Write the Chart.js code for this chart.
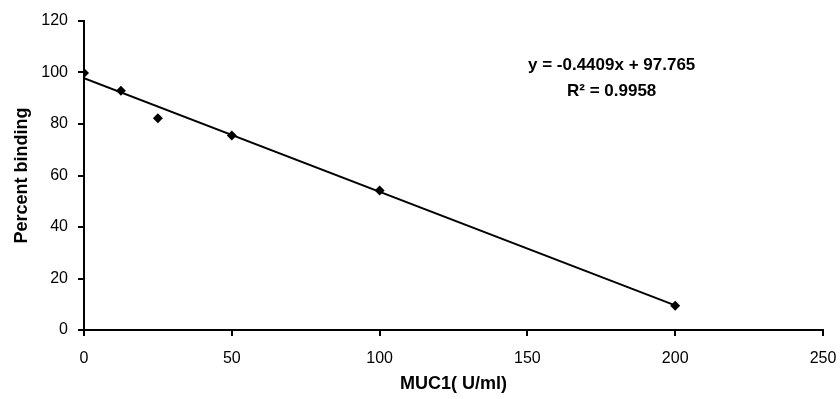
<!DOCTYPE html>
<html>
<head>
<meta charset="utf-8">
<script src="https://cdn.jsdelivr.net/npm/chart.js@4"></script>
<style>
  body { margin: 0; background: #fff; }
  #wrap { width: 840px; height: 399px; }
</style>
</head>
<body>
<div id="wrap"><canvas id="bindingChart"></canvas></div>
<script>
const concentration = [0, 12.5, 25, 50, 100, 200];
const percentBinding = [99.8, 92.9, 82.2, 75.5, 54.2, 9.4];
// trendline end points (y = -0.4409x + 97.765)
const trendX = [0, 200];
const trendY = [97.765, 9.585];
const xTicks = [0, 50, 100, 150, 200, 250];
const yTicks = [0, 20, 40, 60, 80, 100, 120];
const equationLines = ['y = -0.4409x + 97.765', 'R² = 0.9958'];

const fontFamily = '"Liberation Sans", Arial, sans-serif';

const equationPlugin = {
  id: 'equationText',
  afterDraw(chart) {
    const ctx = chart.ctx;
    const x = chart.scales.x.getPixelForValue(178.5);
    ctx.save();
    ctx.fillStyle = '#000';
    ctx.font = 'bold 17px ' + fontFamily;
    ctx.textAlign = 'center';
    ctx.textBaseline = 'middle';
    ctx.fillText(equationLines[0], x, 65);
    ctx.fillText(equationLines[1], x, 91);
    ctx.restore();
  }
};

new Chart(document.getElementById('bindingChart'), {
  type: 'scatter',
  data: {
    datasets: [
      {
        label: 'Percent binding',
        data: concentration.map((c, i) => ({ x: c, y: percentBinding[i] })),
        pointStyle: 'rectRot',
        pointRadius: 5,
        backgroundColor: '#000',
        borderColor: '#000',
        borderWidth: 0,
        showLine: false
      },
      {
        label: 'Linear fit',
        data: trendX.map((c, i) => ({ x: c, y: trendY[i] })),
        showLine: true,
        borderColor: '#000',
        borderWidth: 2,
        pointRadius: 0
      }
    ]
  },
  options: {
    responsive: true,
    maintainAspectRatio: false,
    animation: false,
    layout: { padding: { top: 21, right: 17, left: 0, bottom: 0 } },
    plugins: {
      legend: { display: false },
      tooltip: { enabled: false }
    },
    scales: {
      x: {
        type: 'linear',
        min: 0,
        max: 250,
        afterBuildTicks: s => { s.ticks = xTicks.map(v => ({ value: v })); },
        afterFit: s => { s.height = 69; s.paddingRight = 0; s.paddingLeft = 0; },
        grid: { drawOnChartArea: false, color: '#000', lineWidth: 2, tickLength: 6 },
        border: { color: '#000', width: 2 },
        ticks: { color: '#000', font: { family: fontFamily, size: 16 }, padding: 13 },
        title: {
          display: true,
          text: 'MUC1( U/ml)',
          color: '#000',
          font: { family: fontFamily, size: 18, weight: 'bold' },
          padding: { top: 13 }
        }
      },
      y: {
        min: 0,
        max: 120,
        afterBuildTicks: s => { s.ticks = yTicks.map(v => ({ value: v })); },
        afterFit: s => { s.width = 84; },
        grid: { drawOnChartArea: false, color: '#000', lineWidth: 2, tickLength: 6 },
        border: { color: '#000', width: 2 },
        ticks: { color: '#000', font: { family: fontFamily, size: 16 }, padding: 10 },
        title: {
          display: true,
          text: 'Percent binding',
          color: '#000',
          font: { family: fontFamily, size: 18, weight: 'bold' },
          padding: { top: 11, bottom: 0 }
        }
      }
    }
  },
  plugins: [equationPlugin]
});
</script>
</body>
</html>
